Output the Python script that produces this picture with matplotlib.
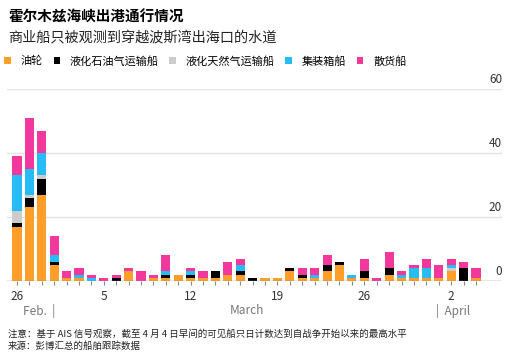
import matplotlib.pyplot as plt
import numpy as np

plt.rcParams['font.family'] = ['Noto Sans CJK SC', 'DejaVu Sans']

# daily counts, Feb 26 .. Apr 4
days = [26, 27, 28] + list(range(1, 32)) + [1, 2, 3, 4]
tanker = [17, 23, 27, 5, 1, 1, 0, 0, 0, 3, 0, 1, 1, 2, 1, 1, 1, 2, 2, 0, 1, 1, 3, 1, 1,
          3, 5, 1, 1, 0, 2, 1, 1, 1, 1, 3, 0, 1]
lpg = [1, 3, 5, 1, 0, 0, 0, 0, 1, 0, 0, 0, 1, 0, 1, 0, 2, 0, 1, 1, 0, 0, 1, 1, 0,
       2, 1, 0, 2, 0, 2, 0, 0, 0, 0, 0, 4, 0]
lng = [4, 1, 1, 0, 0, 0, 0, 0, 0, 0, 0, 0, 0, 0, 0, 0, 0, 0, 0, 0, 0, 0, 0, 0, 0,
       0, 0, 0, 0, 0, 0, 0, 0, 0, 0, 1, 0, 0]
container = [11, 8, 7, 2, 0, 1, 1, 0, 0, 0, 0, 0, 1, 0, 1, 0, 0, 0, 2, 0, 0, 0, 0, 0, 1,
             0, 0, 1, 0, 0, 0, 1, 3, 3, 0, 1, 0, 0]
bulk = [6, 16, 7, 6, 2, 2, 1, 1, 1, 1, 3, 1, 5, 0, 1, 2, 0, 4, 2, 0, 0, 0, 0, 2, 2,
        3, 0, 0, 4, 1, 5, 1, 1, 3, 4, 2, 2, 3]

series = [tanker, lpg, lng, container, bulk]
names = ['油轮', '液化石油气运输船', '液化天然气运输船', '集装箱船', '散货船']
colors = ['#FF9F2A', '#000000', '#CCCCCC', '#27BCF5', '#F2389C']

label_days = {0: '26', 7: '5', 14: '12', 21: '19', 28: '26', 35: '2'}

fig = plt.figure(figsize=(5.16, 3.57), dpi=100)
ax = fig.add_axes([0.0136, 0.2129, 0.9593, 0.5378])

x = np.arange(len(days))
bottom = np.zeros(len(days))
handles = []
for vals, name, col in zip(series, names, colors):
    b = ax.bar(x, vals, 0.74, bottom=bottom, color=col, label=name, linewidth=0)
    handles.append(b)
    bottom += np.array(vals)

ax.set_xlim(-0.8, 39.1)
ax.set_ylim(0, 60)
for s in ax.spines.values():
    s.set_visible(False)
ax.set_yticks([])
for v in [20, 40, 60]:
    ax.axhline(v, color='#E3E3E3', lw=1, zorder=0)
    ax.text(1.0, v + 1.0, str(v), transform=ax.get_yaxis_transform(),
            ha='right', va='bottom', fontsize=8.5, color='#333333')
ax.text(1.0, 1.0, '0', transform=ax.get_yaxis_transform(),
        ha='right', va='bottom', fontsize=8.5, color='#333333')
ax.axhline(0, color='#888888', lw=1, zorder=3)

ax.set_xticks(x)
ax.set_xticklabels([label_days.get(i, '') for i in x], fontsize=8.5, color='#333333')
ax.tick_params(axis='x', length=3, width=0.8, color='#888888', pad=3.5)

# month row
ax.text(0.5, -0.12, 'Feb.  |', transform=ax.get_xaxis_transform(), ha='left',
        va='top', fontsize=8.5, color='#777777')
ax.text(18.5, -0.12, 'March', transform=ax.get_xaxis_transform(), ha='center',
        va='top', fontsize=8.5, color='#777777')
ax.text(33.8, -0.12, '|  April', transform=ax.get_xaxis_transform(), ha='left',
        va='top', fontsize=8.5, color='#777777')

fig.text(0.0155, 0.952, '霍尔木兹海峡出港通行情况', fontsize=10.5, fontweight='bold',
         va='center', ha='left')
fig.text(0.0155, 0.893, '商业船只被观测到穿越波斯湾出海口的水道', fontsize=10.2,
         va='center', ha='left', color='#222222')
fig.legend(handles=handles, labels=names, loc='center left',
           bbox_to_anchor=(0.0, 0.829), ncol=5, frameon=False, fontsize=8,
           handlelength=0.6, handleheight=0.6, handletextpad=0.87, columnspacing=0.95,
           borderaxespad=0)

fig.text(0.0155, 0.064, '注意：基于 AIS 信号观察，截至 4 月 4 日早间的可见船只日计数达到自战争开始以来的最高水平',
         fontsize=6.8, va='center', ha='left', color='#222222')
fig.text(0.0155, 0.030, '来源：彭博汇总的船舶跟踪数据', fontsize=6.8, va='center',
         ha='left', color='#222222')

fig.savefig('out.png', dpi=100)
